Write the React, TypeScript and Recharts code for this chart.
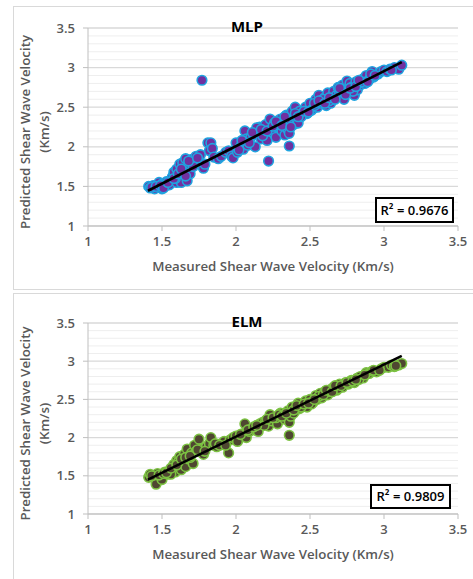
import {
  CartesianGrid,
  ReferenceLine,
  Scatter,
  ScatterChart,
  XAxis,
  YAxis,
} from "recharts"

// measured vs predicted Vs (km/s)
const mlpX = [
  1.41, 1.42, 1.44, 1.45, 1.47, 1.48, 1.5, 1.5, 1.52, 1.53, 1.55, 1.56,
  1.57, 1.58, 1.6, 1.6, 1.62, 1.62, 1.63, 1.64, 1.65, 1.66, 1.67, 1.68, 1.69, 1.7, 1.72, 1.73, 1.75, 1.76, 1.78, 1.77,
  1.81, 1.83, 1.82, 1.84, 1.85, 1.88, 1.9,
  1.93, 1.95, 1.97, 1.98, 2.0, 2.01, 2.03, 2.05, 2.06, 2.07, 2.08, 2.1, 2.12,
  2.13, 2.15, 2.16, 2.17, 2.19, 2.2, 2.21, 2.22, 2.23, 2.24, 2.25, 2.26, 2.27, 2.28, 2.3, 2.31, 2.32, 2.33, 2.34, 2.35,
  2.36, 2.36, 2.37, 2.38, 2.39, 2.4, 2.41, 2.42, 2.43,
  2.45, 2.47, 2.48, 2.5, 2.51, 2.52, 2.54, 2.55, 2.56, 2.57, 2.58, 2.6, 2.61, 2.62, 2.64, 2.65, 2.66, 2.68, 2.69, 2.7,
  2.72, 2.73, 2.74, 2.75, 2.76, 2.77, 2.78, 2.8, 2.81, 2.82, 2.84, 2.86, 2.87, 2.88, 2.9, 2.92, 2.93,
  2.96, 2.98, 3.0, 3.02, 3.04, 3.07, 3.1, 3.12,
  1.59, 1.64, 1.71, 2.04, 2.14, 2.18, 2.29, 2.44, 2.53, 2.59, 2.63, 2.71, 2.79, 2.85,
  1.43, 1.46, 1.49, 1.51, 1.54, 1.58, 1.61, 1.63, 1.66, 1.68, 1.74, 1.79, 2.02, 2.09, 2.11, 2.17, 2.21, 2.25, 2.27, 2.31,
  2.33, 2.37, 2.4, 2.42, 2.46, 2.49, 2.53, 2.56, 2.6, 2.63, 2.67, 2.7, 2.74, 2.77, 2.81, 2.83, 2.89, 2.91, 2.94, 3.05,
]
const mlpY = [
  1.5, 1.48, 1.51, 1.47, 1.52, 1.55, 1.47, 1.53, 1.5, 1.56, 1.52, 1.58,
  1.62, 1.68, 1.72, 1.55, 1.78, 1.65, 1.55, 1.8, 1.7, 1.85, 1.57, 1.76, 1.66, 1.84, 1.8, 1.88, 1.82, 1.9, 1.73, 2.84,
  2.05, 2.05, 1.95, 1.98, 1.87, 1.85, 1.88,
  1.93, 1.95, 1.88, 1.86, 2.05, 1.93, 2.0, 1.97, 2.2, 2.1, 2.02, 2.12, 2.15,
  2.0, 2.2, 2.25, 2.1, 2.18, 2.28, 2.08, 1.82, 2.35, 2.22, 2.18, 2.3, 2.12, 2.25, 2.35, 2.2, 2.28, 2.15, 2.4, 2.22,
  2.01, 2.17, 2.32, 2.45, 2.28, 2.5, 2.35, 2.3, 2.45,
  2.4, 2.5, 2.42, 2.55, 2.46, 2.48, 2.6, 2.5, 2.65, 2.55, 2.58, 2.62, 2.52, 2.68, 2.55, 2.6, 2.7, 2.65, 2.75, 2.68,
  2.78, 2.6, 2.72, 2.83, 2.7, 2.8, 2.75, 2.65, 2.82, 2.72, 2.78, 2.86, 2.8, 2.9, 2.85, 2.95, 2.88,
  2.92, 2.95, 2.97, 2.95, 2.98, 3.0, 2.98, 3.03,
  1.6, 1.7, 1.75, 2.08, 2.24, 2.14, 2.3, 2.38, 2.52, 2.6, 2.58, 2.72, 2.7, 2.82,
  1.49, 1.5, 1.51, 1.48, 1.55, 1.6, 1.66, 1.72, 1.63, 1.82, 1.86, 1.78, 1.96, 2.05, 2.18, 2.22, 2.2, 2.26, 2.32, 2.27,
  2.38, 2.25, 2.42, 2.38, 2.45, 2.44, 2.55, 2.58, 2.55, 2.62, 2.6, 2.74, 2.66, 2.74, 2.76, 2.84, 2.82, 2.92, 2.9, 2.97,
]

const elmX = [
  1.41, 1.42, 1.44, 1.46, 1.47, 1.49, 1.5, 1.52, 1.54, 1.55, 1.57, 1.58, 1.59, 1.6, 1.61, 1.62, 1.63, 1.64, 1.65,
  1.66, 1.67, 1.68, 1.7, 1.71, 1.72, 1.73, 1.75, 1.77, 1.78, 1.8, 1.82, 1.83, 1.85, 1.87, 1.9, 1.92, 1.95, 1.96,
  1.98, 2.0, 2.02, 2.04, 2.06, 2.07, 2.09, 2.11, 2.13, 2.15, 2.16, 2.18, 2.2, 2.22, 2.23, 2.24, 2.26, 2.28, 2.3,
  2.32, 2.33, 2.35, 2.36, 2.36, 2.37, 2.38, 2.4, 2.42, 2.43, 2.45, 2.47, 2.48, 2.5, 2.52, 2.54, 2.55, 2.57, 2.58,
  2.6, 2.62, 2.64, 2.66, 2.68, 2.7, 2.72, 2.74, 2.76, 2.78, 2.8, 2.82, 2.84, 2.86, 2.88, 2.9, 2.92, 2.95, 2.98,
  3.0, 3.03, 3.05, 3.07, 3.1, 3.12,
  1.56, 1.61, 1.69, 2.01, 2.19, 2.27, 2.39, 2.44, 2.51, 2.56, 2.63, 2.69, 2.77, 2.83,
  1.43, 1.48, 1.51, 1.53, 1.56, 1.6, 1.63, 1.66, 1.69, 1.74, 1.79, 1.86, 1.89, 1.93, 2.03, 2.08, 2.12, 2.14, 2.21, 2.25,
  2.29, 2.31, 2.34, 2.39, 2.41, 2.46, 2.49, 2.53, 2.59, 2.61, 2.65, 2.67, 2.71, 2.75, 2.79, 2.81, 2.87, 2.93, 2.97, 3.08,
]
const elmY = [
  1.48, 1.52, 1.5, 1.39, 1.53, 1.5, 1.45, 1.55, 1.52, 1.56, 1.6, 1.65, 1.55, 1.7, 1.62, 1.75, 1.58, 1.68, 1.78,
  1.62, 1.85, 1.72, 1.8, 1.66, 1.9, 1.82, 1.98, 1.85, 1.78, 1.88, 1.92, 2.0, 1.9, 1.88, 1.92, 1.95, 1.8, 1.97,
  2.0, 2.02, 1.98, 2.05, 2.18, 2.0, 2.08, 2.12, 2.1, 2.08, 2.18, 2.2, 2.22, 2.15, 2.3, 2.22, 2.25, 2.18, 2.32,
  2.28, 2.24, 2.35, 2.03, 2.2, 2.28, 2.4, 2.35, 2.45, 2.38, 2.42, 2.48, 2.4, 2.5, 2.46, 2.55, 2.5, 2.58, 2.52,
  2.6, 2.56, 2.63, 2.66, 2.62, 2.7, 2.66, 2.72, 2.7, 2.75, 2.72, 2.78, 2.8, 2.78, 2.85, 2.84, 2.87, 2.86, 2.9,
  2.92, 2.92, 2.95, 2.93, 2.95, 2.97,
  1.52, 1.68, 1.74, 1.95, 2.16, 2.26, 2.32, 2.4, 2.44, 2.54, 2.6, 2.64, 2.73, 2.76,
  1.5, 1.51, 1.53, 1.54, 1.6, 1.64, 1.72, 1.74, 1.76, 1.84, 1.82, 1.92, 1.9, 1.9, 2.04, 2.1, 2.14, 2.16, 2.24, 2.26,
  2.3, 2.28, 2.32, 2.36, 2.42, 2.44, 2.45, 2.5, 2.56, 2.62, 2.6, 2.68, 2.68, 2.72, 2.74, 2.76, 2.82, 2.88, 2.88, 2.94,
]

// trendline end points
const mlpTrendX = [1.405, 3.12]
const mlpTrendY = [1.445, 3.07]
const elmTrendX = [1.405, 3.12]
const elmTrendY = [1.45, 3.07]

const axisTicks = [1, 1.5, 2, 2.5, 3, 3.5]
const minorTicks = [
  1.1, 1.2, 1.3, 1.4, 1.6, 1.7, 1.8, 1.9, 2.1, 2.2, 2.3, 2.4, 2.6, 2.7, 2.8, 2.9, 3.1, 3.2, 3.3, 3.4,
]

const FONT = "'Open Sans', sans-serif"
const TXT = "#595959"
const X_AXIS_H = 45

function Panel({
  top,
  height,
  title,
  xs,
  ys,
  trendX,
  trendY,
  r2,
  fill,
  stroke,
  plotTop,
  plotBottom,
  box,
}: {
  top: number
  height: number
  title: string
  xs: number[]
  ys: number[]
  trendX: number[]
  trendY: number[]
  r2: string
  fill: string
  stroke: string
  plotTop: number
  plotBottom: number
  box: { left: number; top: number; width: number; height: number }
}) {
  const data = xs.map((x, i) => ({ x, y: ys[i] }))
  const trend = trendX.map((x, i) => ({ x, y: trendY[i] }))
  const plotH = plotBottom - plotTop
  return (
    <div style={{ position: "absolute", left: 0, top, width: 473, height }}>
      <ScatterChart
        width={473}
        height={height}
        margin={{ top: plotTop, right: 15, left: 58, bottom: height - plotBottom - X_AXIS_H }}
      >
        <CartesianGrid vertical={false} stroke="#d9d9d9" strokeWidth={1.3} />
        {minorTicks.map((v) => (
          <ReferenceLine key={v} y={v} stroke="#eeeeee" strokeWidth={1} />
        ))}
        <XAxis
          type="number"
          dataKey="x"
          domain={[1, 3.5]}
          ticks={axisTicks}
          allowDataOverflow
          stroke="#bfbfbf"
          tickSize={5}
          tickMargin={6}
          tick={{ fill: TXT, fontSize: 13, fontWeight: 600, fontFamily: FONT }}
          label={{
            value: "Measured Shear Wave Velocity (Km/s)",
            position: "insideBottom",
            offset: 0,
            fill: TXT,
            fontSize: 13.3,
            fontWeight: 600,
            fontFamily: FONT,
          }}
          height={X_AXIS_H}
        />
        <YAxis
          type="number"
          dataKey="y"
          domain={[1, 3.5]}
          ticks={axisTicks}
          allowDataOverflow
          stroke="#bfbfbf"
          tickSize={5}
          tickMargin={8}
          width={30}
          tick={{ fill: TXT, fontSize: 13, fontWeight: 600, fontFamily: FONT }}
          label={{
            content: () => {
              const cy = plotTop + plotH / 2 + 5
              return (
                <g fill={TXT} fontSize={13.3} fontWeight={600} fontFamily={FONT} textAnchor="middle">
                  <text x={25} y={cy} transform={`rotate(-90 25 ${cy})`} dominantBaseline="central">
                    Predicted Shear Wave Velocity
                  </text>
                  <text x={44} y={cy} transform={`rotate(-90 44 ${cy})`} dominantBaseline="central">
                    (Km/s)
                  </text>
                </g>
              )
            },
          }}
        />
        <Scatter
          data={data}
          isAnimationActive={false}
          shape={(p: any) => (
            <circle cx={p.cx} cy={p.cy} r={4.8} fill={fill} stroke={stroke} strokeWidth={1.6} />
          )}
        />
        <Scatter
          data={trend}
          isAnimationActive={false}
          line={{ stroke: "#000", strokeWidth: 2.6 }}
          shape={() => <g />}
        />
      </ScatterChart>
      <div
        style={{
          position: "absolute",
          left: 226,
          top: plotTop - 12,
          width: 42,
          textAlign: "center",
          fontFamily: FONT,
          fontWeight: 700,
          fontSize: 15,
          color: "#000",
          lineHeight: "20px",
        }}
      >
        {title}
      </div>
      <div
        style={{
          position: "absolute",
          left: box.left,
          top: box.top,
          width: box.width,
          height: box.height,
          boxSizing: "border-box",
          border: "2px solid #000",
          background: "#fff",
          fontFamily: FONT,
          fontWeight: 600,
          fontSize: 13,
          color: "#000",
          textAlign: "center",
          lineHeight: `${box.height - 4}px`,
        }}
      >
        {r2}
      </div>
    </div>
  )
}

export default function App() {
  return (
    <div style={{ position: "absolute", left: 0, top: 0, width: 473, height: 579, background: "#fff", overflow: "hidden" }}>
      <div
        style={{
          position: "absolute",
          left: 13,
          top: 6,
          width: 480,
          height: 284,
          border: "1px solid #d9d9d9",
          boxSizing: "border-box",
        }}
      />
      <div
        style={{
          position: "absolute",
          left: 13,
          top: 293,
          width: 480,
          height: 300,
          border: "1px solid #d9d9d9",
          boxSizing: "border-box",
        }}
      />
      <Panel
        top={0}
        height={290}
        title="MLP"
        xs={mlpX}
        ys={mlpY}
        trendX={mlpTrendX}
        trendY={mlpTrendY}
        r2="R² = 0.9676"
        fill="#7030a0"
        stroke="#1fa4e0"
        plotTop={28}
        plotBottom={226}
        box={{ left: 375, top: 197, width: 79, height: 26 }}
      />
      <Panel
        top={290}
        height={289}
        title="ELM"
        xs={elmX}
        ys={elmY}
        trendX={elmTrendX}
        trendY={elmTrendY}
        r2="R² = 0.9809"
        fill="#4f4731"
        stroke="#7cc242"
        plotTop={33}
        plotBottom={224}
        box={{ left: 370, top: 194, width: 81, height: 25 }}
      />
    </div>
  )
}
